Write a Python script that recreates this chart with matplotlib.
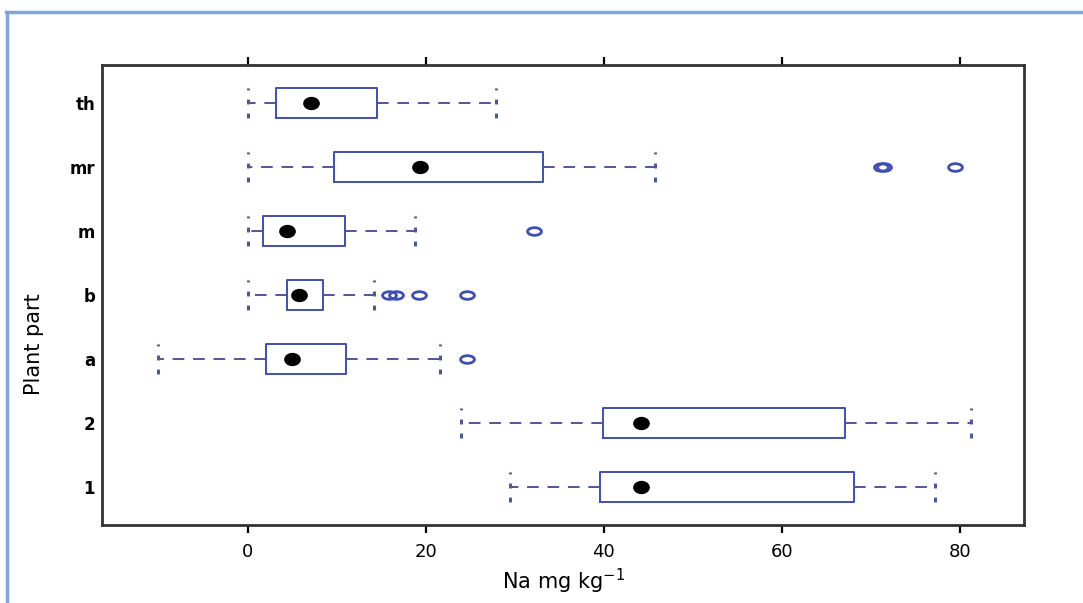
import numpy as np
import matplotlib.pyplot as plt
from matplotlib.lines import Line2D
from matplotlib.path import Path

# plant parts, bottom to top
parts = ['1', '2', 'a', 'b', 'm', 'mr', 'th']
whis_lo = [29.5, 23.9, -10.1, 0.0, 0.0, 0.0, 0.0]
q1 = [39.6, 39.9, 2.0, 4.4, 1.7, 9.7, 3.1]
med = [44.2, 44.2, 4.9, 5.7, 4.4, 19.3, 7.1]
q3 = [68.1, 67.1, 11.0, 8.4, 10.9, 33.1, 14.5]
whis_hi = [77.2, 81.2, 21.6, 14.2, 18.8, 45.7, 27.9]
fliers = [[], [], [24.6], [15.9, 16.6, 19.2, 24.6], [32.1], [71.1, 71.5, 79.4], []]

xticks = [0, 20, 40, 60, 80]

blue = '#3f4fb5'
dash = '#4a5a9a'

# the source picture is stretched sideways, so use flat ellipses as markers
circ = Path.unit_circle()
flat = Path(circ.vertices * [1.0, 0.55], circ.codes)
dot = Path(circ.vertices * [1.0, 0.78], circ.codes)

fig = plt.figure(figsize=(10.83, 6.03), dpi=100)
ax = fig.add_axes([0.0942, 0.1294, 0.8513, 0.7629])

stats = []
for i in range(len(parts)):
    stats.append(dict(whislo=whis_lo[i], q1=q1[i], med=med[i], q3=q3[i],
                      whishi=whis_hi[i], fliers=fliers[i], label=parts[i]))

pos = np.arange(1, len(parts) + 1)
ax.bxp(stats, positions=pos, vert=False, widths=0.47, capwidths=0.47,
       boxprops=dict(color=blue, linewidth=1.4),
       whiskerprops=dict(color=dash, linestyle=(0, (6, 4.5)), linewidth=1.4),
       capprops=dict(color=dash, linestyle=(0, (1.6, 3)), linewidth=2.2),
       medianprops=dict(linestyle='none'),
       flierprops=dict(marker=flat, markerfacecolor='none', markeredgecolor=blue,
                       markersize=10, markeredgewidth=2.0))
ax.plot(med, pos, linestyle='none', marker=dot, color='black', markersize=11,
        zorder=5)

ax.set_xlim(-16.4, 87.2)
ax.set_ylim(0.4, 7.6)
ax.set_xticks(xticks)
ax.set_xticklabels([str(t) for t in xticks], fontsize=13)
ax.set_yticks(pos)
ax.set_yticklabels(parts, fontsize=12, fontweight='bold')
ax.tick_params(axis='x', direction='out', length=6, width=1.6, top=True,
               labeltop=False, pad=7)
ax.tick_params(axis='y', length=0, pad=5)
for s in ax.spines.values():
    s.set_linewidth(2.0)
    s.set_color('#333333')

ax.set_xlabel('Na mg kg$^{-1}$', fontsize=15, labelpad=4)
ax.set_ylabel('Plant part', fontsize=15)
ax.yaxis.set_label_coords(-0.063, 0.393)

# light blue frame around the picture (top and left)
fig.add_artist(Line2D([6 / 1083, 1], [1 - 12 / 603, 1 - 12 / 603],
                      color='#7ea6dc', linewidth=2.5, transform=fig.transFigure))
fig.add_artist(Line2D([7 / 1083, 7 / 1083], [0, 1 - 12 / 603],
                      color='#7ea6dc', linewidth=2.5, transform=fig.transFigure))

fig.savefig('out.png', dpi=100)
